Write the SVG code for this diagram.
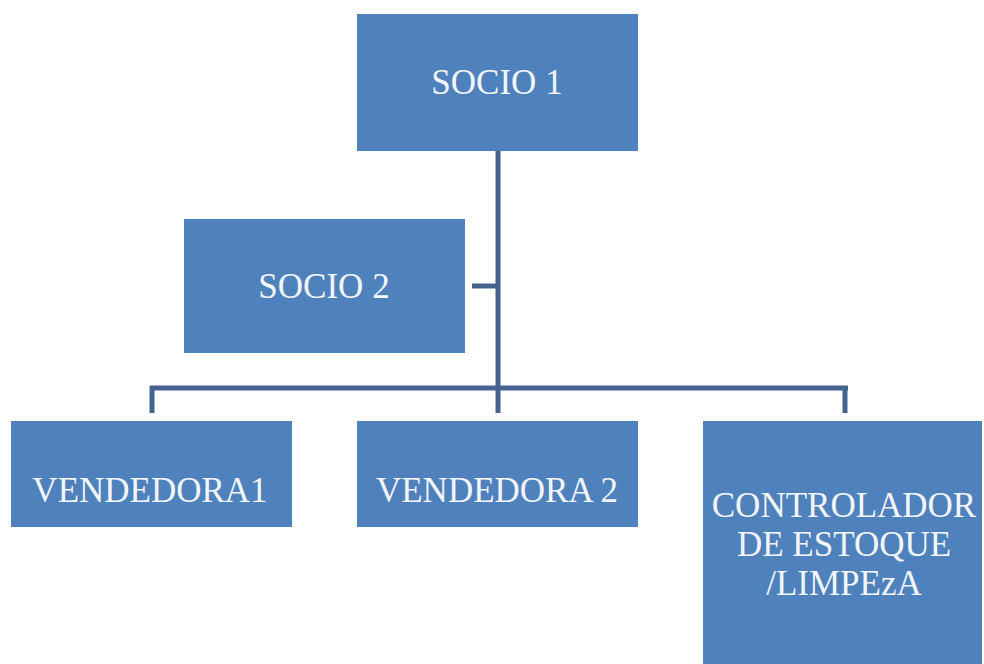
<svg xmlns="http://www.w3.org/2000/svg" width="984" height="664" viewBox="0 0 984 664">
<style>
.box{fill:#4F81BD;}
.lbl{font-family:"Liberation Serif","DejaVu Serif",serif;font-size:35px;fill:#F2F6FB;text-anchor:middle;}
.conn{stroke:#44648F;stroke-width:5;fill:none;stroke-linecap:butt;}
</style>
<rect width="984" height="664" fill="#FFFFFF"/>
<g id="connectors">
<line class="conn" x1="498" y1="151" x2="498" y2="413"/>
<line class="conn" x1="472" y1="286" x2="498" y2="286"/>
<line class="conn" x1="150" y1="388" x2="848" y2="388"/>
<line class="conn" x1="152" y1="386" x2="152" y2="413"/>
<line class="conn" x1="845" y1="386" x2="845" y2="413"/>
</g>
<g id="socio1">
<rect class="box" x="357" y="14" width="281" height="137"/>
<text class="lbl" x="497" y="94">SOCIO 1</text>
</g>
<g id="socio2">
<rect class="box" x="184" y="219" width="281" height="134"/>
<text class="lbl" x="324" y="298">SOCIO 2</text>
</g>
<g id="vendedora1">
<rect class="box" x="11" y="421" width="281" height="106"/>
<text class="lbl" x="150" y="502">VENDEDORA1</text>
</g>
<g id="vendedora2">
<rect class="box" x="357" y="421" width="281" height="106"/>
<text class="lbl" x="497" y="502">VENDEDORA 2</text>
</g>
<g id="controlador">
<rect class="box" x="703" y="421" width="279" height="243"/>
<text class="lbl" x="844" y="517">CONTROLADOR</text>
<text class="lbl" x="844" y="556">DE ESTOQUE</text>
<text class="lbl" x="844" y="595">/LIMPEzA</text>
</g>
</svg>
